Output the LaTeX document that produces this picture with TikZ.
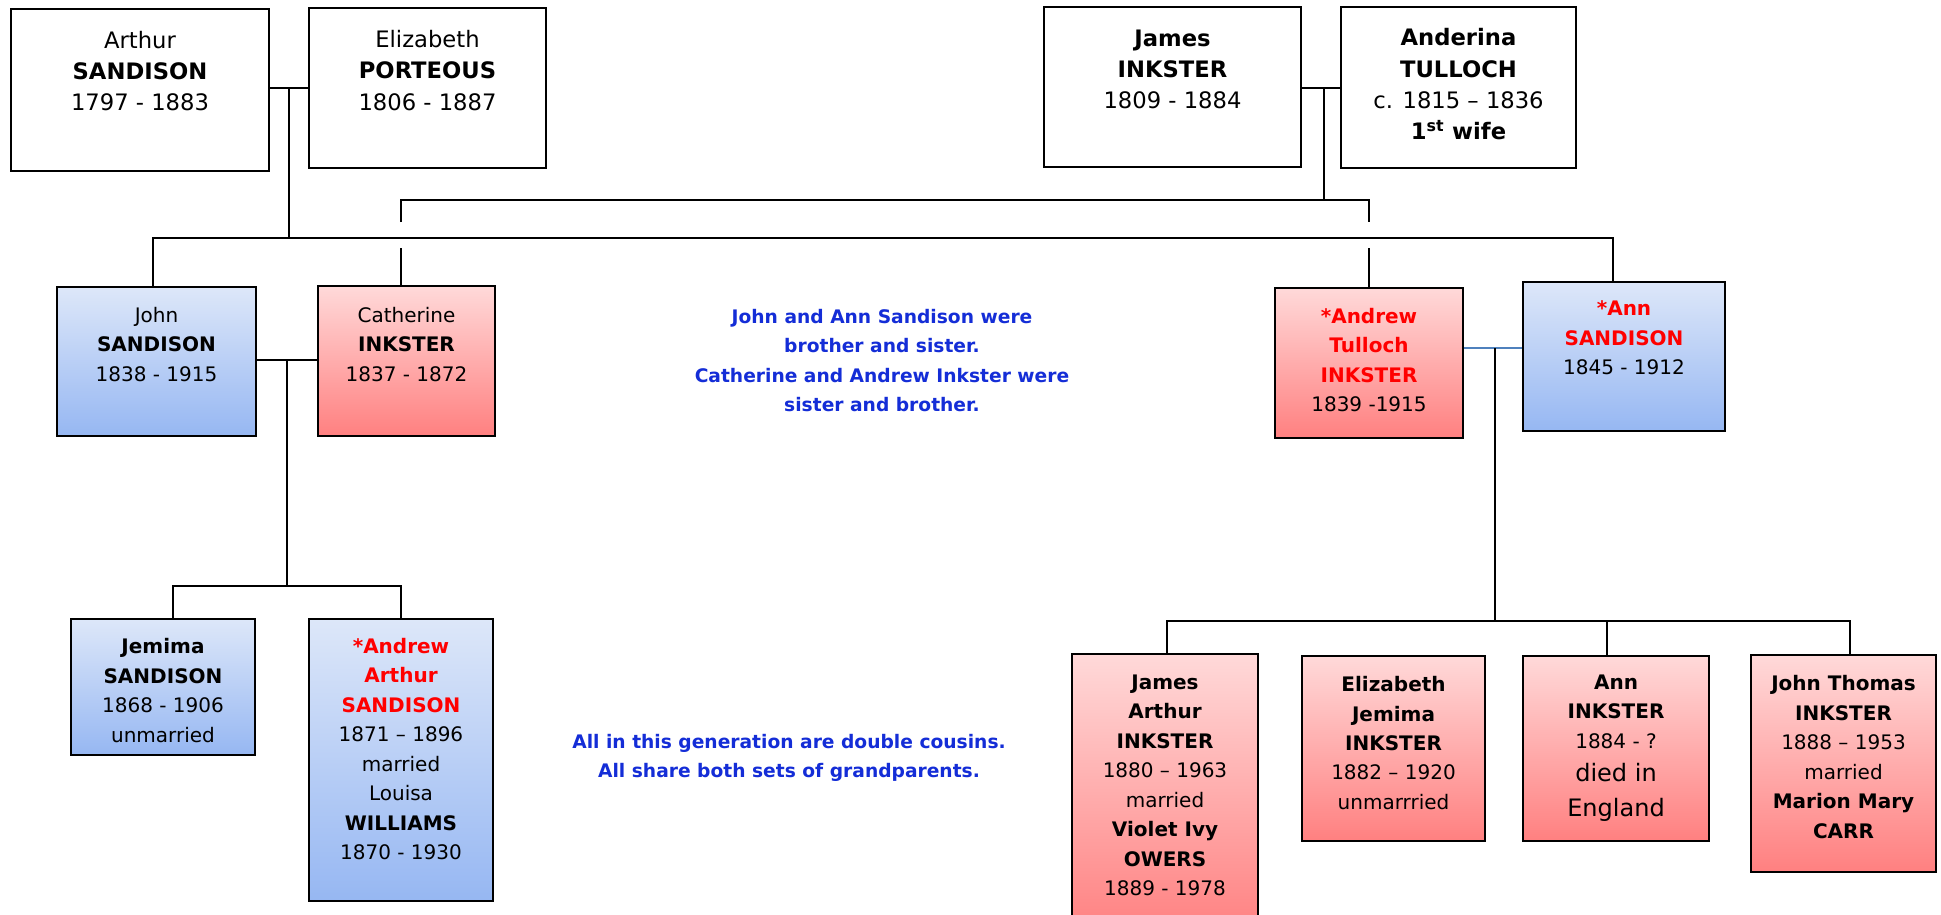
\documentclass[tikz,border=0pt]{standalone}
\usepackage{fontspec}
\setmainfont{DejaVu Sans}
\usetikzlibrary{fit}
\definecolor{bluetop}{RGB}{221,231,249}
\definecolor{bluebot}{RGB}{150,183,242}
\definecolor{redtop}{RGB}{255,217,217}
\definecolor{redbot}{RGB}{255,128,128}
\definecolor{noteblue}{RGB}{20,45,215}
\definecolor{linkblue}{RGB}{79,129,189}
\definecolor{namered}{RGB}{255,0,0}
\newcommand\rn[1]{\textcolor{namered}{\textbf{#1}}}
\begin{document}
\begin{tikzpicture}[x=0.75pt,y=-0.75pt,
  box/.style={draw=black, line width=1.5pt, inner sep=0pt},
  wbox/.style={box, fill=white},
  bbox/.style={box, top color=bluetop, bottom color=bluebot},
  rbox/.style={box, top color=redtop, bottom color=redbot},
  conn/.style={line width=1.5pt, draw=black},
  ta/.style={align=center, inner sep=0pt, font=\fontsize{17}{23.5}\selectfont},
  tb/.style={align=center, inner sep=0pt, font=\fontsize{15}{22.1}\selectfont},
  note/.style={align=center, inner sep=0pt, text=noteblue, font=\bfseries\fontsize{14}{22.1}\selectfont}]
\path[use as bounding box] (0,0) rectangle (1941,914);
\clip (0,0) rectangle (1941,914);
\fill[white] (0,0) rectangle (1941,914);

% ---------- connectors ----------
\coordinate (sj) at (289,88);
\coordinate (sbar) at (289,238);
\coordinate (sbL) at (153,238);
\coordinate (sbR) at (1613,238);
\coordinate (ij) at (1324,88);
\coordinate (ibar) at (1324,200);
\coordinate (ibL) at (401,200);
\coordinate (ibLg) at (401,222);
\coordinate (ibLh) at (401,248);
\coordinate (ibR) at (1369,200);
\coordinate (ibRg) at (1369,222);
\coordinate (ibRh) at (1369,248);
\coordinate (jc) at (287,360);
\coordinate (jcbar) at (287,586);
\coordinate (cL) at (173,586);
\coordinate (cR) at (401,586);
\coordinate (aa) at (1495,348);
\coordinate (aabar) at (1495,621);
\coordinate (kL) at (1167,621);
\coordinate (kM) at (1607,621);
\coordinate (kR) at (1850,621);

% ---------- boxes ----------
\node[wbox, fit={(11,9) (269,171)}] (arthur) {};
\node[wbox, fit={(309,8) (546,168)}] (elizabeth) {};
\node[wbox, fit={(1044,7) (1301,167)}] (james) {};
\node[wbox, fit={(1341,7) (1576,168)}] (anderina) {};
\node[bbox, fit={(57,287) (256,436)}] (john) {};
\node[rbox, fit={(318,286) (495,436)}] (catherine) {};
\node[rbox, fit={(1275,288) (1463,438)}] (andrew) {};
\node[bbox, fit={(1523,282) (1725,431)}] (ann) {};
\node[bbox, fit={(71,619) (255,755)}] (jemima) {};
\node[bbox, fit={(309,619) (493,901)}] (andrewa) {};
\node[rbox, fit={(1072,654) (1258,935)}] (jamesa) {};
\node[rbox, fit={(1302,656) (1485,841)}] (elizj) {};
\node[rbox, fit={(1523,656) (1709,841)}] (anni) {};
\node[rbox, fit={(1751,655) (1936,872)}] (johnt) {};

\draw[conn] (arthur.east |- sj) -- (elizabeth.west |- sj);
\draw[conn] (sj) -- (sbar);
\draw[conn] (sbL |- john.north) -- (sbL) -- (sbR) -- (sbR |- ann.north);
\draw[conn] (james.east |- ij) -- (anderina.west |- ij);
\draw[conn] (ij) -- (ibar);
\draw[conn] (ibLg) -- (ibL) -- (ibR) -- (ibRg);
\draw[conn] (ibLh) -- (ibLh |- catherine.north);
\draw[conn] (ibRh) -- (ibRh |- andrew.north);
\draw[conn] (john.east |- jc) -- (catherine.west |- jc);
\draw[conn] (jc) -- (jcbar);
\draw[conn] (cL |- jemima.north) -- (cL) -- (cR) -- (cR |- andrewa.north);
\draw[conn, draw=linkblue] (andrew.east |- aa) -- (ann.west |- aa);
\draw[conn] (aa) -- (aabar);
\draw[conn] (kL |- jamesa.north) -- (kL) -- (kR) -- (kR |- johnt.north);
\draw[conn] (kM) -- (kM |- anni.north);

% ---------- texts ----------
\node[ta] (arthurT) at (140,71) {Arthur\\\textbf{SANDISON}\\1797 - 1883};
\node[ta] (elizabethT) at (427.5,70.5) {Elizabeth\\\textbf{PORTEOUS}\\1806 - 1887};
\node[ta] (jamesT) at (1172.5,69.5) {\textbf{James}\\\textbf{INKSTER}\\1809 - 1884};
\node[ta] (anderinaT) at (1458.5,84.5) {\textbf{Anderina}\\\textbf{TULLOCH}\\c. 1815 – 1836\\\textbf{1\textsuperscript{st} wife}};

\node[tb] (johnT) at (156.5,344.5) {John\\\textbf{SANDISON}\\1838 - 1915};
\node[tb] (catherineT) at (406.5,344.5) {Catherine\\\textbf{INKSTER}\\1837 - 1872};
\node[tb] (andrewT) at (1369,360) {\rn{*Andrew}\\\rn{Tulloch}\\\rn{INKSTER}\\1839 -1915};
\node[tb] (annT) at (1624,338) {\rn{*Ann}\\\rn{SANDISON}\\1845 - 1912};

\node[tb] (jemimaT) at (163,690.5) {\textbf{Jemima}\\\textbf{SANDISON}\\1868 - 1906\\unmarried};
\node[tb] (andrewaT) at (401,749) {\rn{*Andrew}\\\rn{Arthur}\\\rn{SANDISON}\\1871 – 1896\\married\\Louisa\\\textbf{WILLIAMS}\\1870 - 1930};

\node[tb] (jamesaT) at (1165,785.5) {\textbf{James}\\\textbf{Arthur}\\\textbf{INKSTER}\\1880 – 1963\\married\\\textbf{Violet Ivy}\\\textbf{OWERS}\\1889 - 1978};
\node[tb] (elizjT) at (1393.5,743) {\textbf{Elizabeth}\\\textbf{Jemima}\\\textbf{INKSTER}\\1882 – 1920\\unmarrried};
\node[tb] (anniT) at (1616,748) {\textbf{Ann}\\\textbf{INKSTER}\\1884 - ?\\[3pt]{\fontsize{18}{24}\selectfont died in}\\[4pt]{\fontsize{18}{24}\selectfont England}};
\node[tb] (johntT) at (1843.5,757) {\textbf{John Thomas}\\\textbf{INKSTER}\\1888 – 1953\\married\\\textbf{Marion Mary}\\\textbf{CARR}};

\node[note] (note1) at (882,360.5) {John and Ann Sandison were\\brother and sister.\\Catherine and Andrew Inkster were\\sister and brother.};
\node[note] (note2) at (789,758) {All in this generation are double cousins.\\All share both sets of grandparents.};
\end{tikzpicture}
\end{document}
